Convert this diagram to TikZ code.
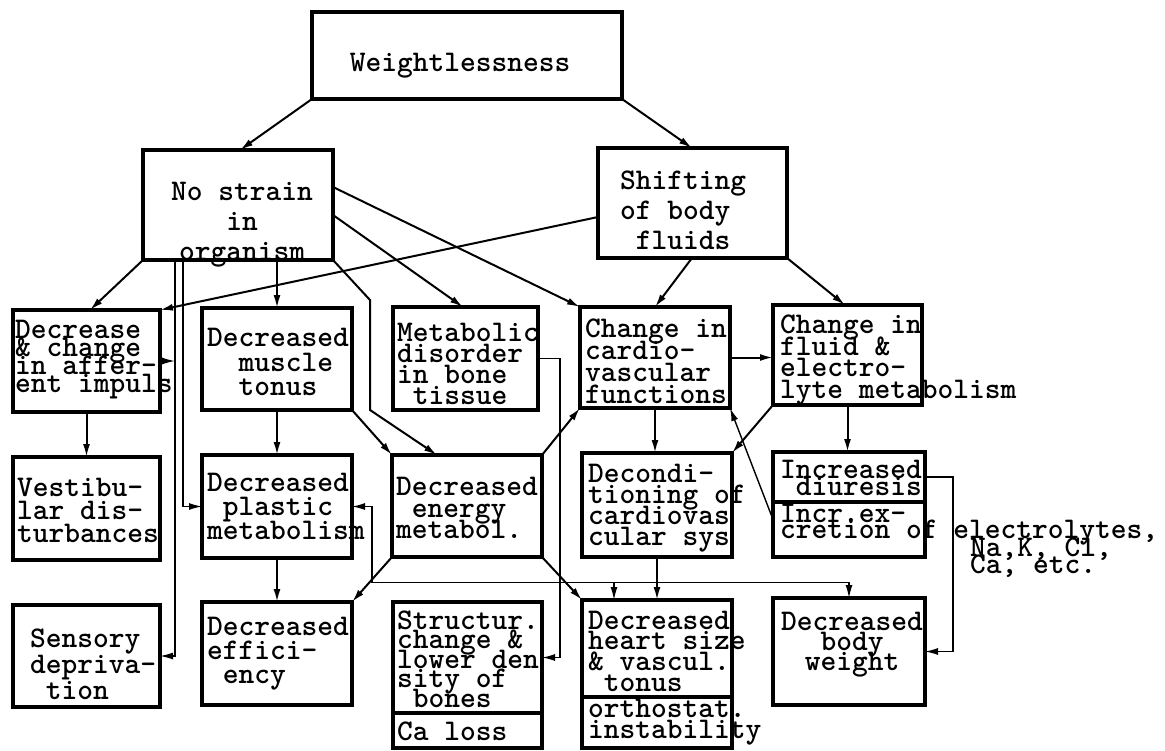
\documentclass[tikz,border=0pt]{standalone}
\usepackage{fontspec}
\usetikzlibrary{arrows.meta}
\tikzset{lsp/.style={font=\ttfamily\bfseries\fontsize{30}{#1}\selectfont}}
\newcommand\chsp{\hphantom{x}}
\begin{document}
\lineskiplimit=-60pt
\lineskip=0pt
\begin{tikzpicture}[x=1pt,y=-1pt,>={Latex[length=13pt,width=7pt]}]
\tikzstyle{every node}+=[inner sep=0pt]
\tikzstyle{box}=[draw, line width=3.5pt, anchor=north west, outer sep=0pt]
\tikzstyle{txt}=[anchor=west, align=left]
\tikzstyle{arr}=[line width=2pt, ->]
\tikzstyle{thin}=[line width=1.4pt]
\useasboundingbox (0,0) rectangle (1165,750);
\node[box, minimum width=310pt, minimum height=87pt] (w) at (312,12) {};
\node[box, minimum width=190pt, minimum height=110pt] (ns) at (143,150) {};
\node[box, minimum width=189pt, minimum height=110pt] (sf) at (598,148) {};
\node[box, minimum width=147pt, minimum height=102pt] (dc) at (13,310) {};
\node[box, minimum width=150pt, minimum height=102pt] (mt) at (202,308) {};
\node[box, minimum width=145pt, minimum height=103pt] (md) at (393,307) {};
\node[box, minimum width=150pt, minimum height=101pt] (cc) at (580,307) {};
\node[box, minimum width=149pt, minimum height=100pt] (cf) at (773,305) {};
\node[box, minimum width=147pt, minimum height=103pt] (vd) at (13,457) {};
\node[box, minimum width=150pt, minimum height=103pt] (pm) at (202,455) {};
\node[box, minimum width=150pt, minimum height=102pt] (em) at (392,455) {};
\node[box, minimum width=150pt, minimum height=104pt] (dt) at (582,453) {};
\node[box, minimum width=152pt, minimum height=50pt] (id) at (773,452) {};
\node[box, minimum width=152pt, minimum height=55pt] (ie) at (773,502) {};
\node[box, minimum width=147pt, minimum height=102pt] (sd) at (13,605) {};
\node[box, minimum width=150pt, minimum height=103pt] (ef) at (202,602) {};
\node[box, minimum width=149pt, minimum height=111pt] (sc) at (393,602) {};
\node[box, minimum width=149pt, minimum height=35pt] (ca) at (393,713) {};
\node[box, minimum width=150pt, minimum height=97pt] (hs) at (582,600) {};
\node[box, minimum width=150pt, minimum height=51pt] (oi) at (582,697) {};
\node[box, minimum width=152pt, minimum height=107pt] (bw) at (773,598) {};
\node[lsp=26] (tw) at (460,66) {Weightlessness};
\node[lsp=30, align=center] (tns) at (242,225) {No strain\\in\\organism};
\node[lsp=30, txt] (tsf) at (620,210) {Shifting\\of body\\\chsp fluids};
\node[lsp=18, txt] (tdc) at (15,360) {Decrease\\\& change\\in affer-\\ent impuls};
\node[lsp=24.5, txt] (tmt) at (207,362) {Decreased\\\chsp\chsp muscle\\\chsp\chsp tonus};
\node[lsp=21, txt] (tmd) at (397,364) {Metabolic\\disorder\\in bone\\\chsp tissue};
\node[lsp=22, txt] (tcc) at (585,361) {Change in\\cardio-\\vascular\\functions};
\node[lsp=21.7, txt] (tcf) at (780,360) {Change in\\fluid \&\\electro-\\lyte metabolism};
\node[lsp=23, txt] (tvd) at (17,510) {Vestibu-\\lar dis-\\turbances};
\node[lsp=24, txt] (tpm) at (207,506) {Decreased\\\chsp plastic\\metabolism};
\node[lsp=21.5, txt] (tem) at (396,508) {Decreased\\\chsp energy\\metabol.};
\node[lsp=21, txt] (tdt) at (588,508) {Decondi-\\tioning of\\cardiovas\\cular sys};
\node[lsp=17, txt] (tid) at (780,478) {Increased\\\chsp diuresis};
\node[lsp=16, txt] (tie) at (780,525) {Incr.ex-\\cretion of electrolytes,};
\node[lsp=17, txt] (tel) at (970,558) {Na,K, Cl,\\Ca, etc.};
\node[lsp=26, txt] (tsd) at (30,664) {Sensory\\depriva-\\\chsp tion};
\node[lsp=24, txt] (tef) at (207,654) {Decreased\\effici-\\\chsp ency};
\node[lsp=19.5, txt] (tsc) at (397,659) {Structur.\\change \&\\lower den\\sity of\\\chsp bones};
\node[lsp=20, txt] (tca) at (397,731) {Ca loss};
\node[lsp=20.7, txt] (ths) at (588,651) {Decreased\\heart size\\\& vascul.\\\chsp tonus};
\node[lsp=21, txt] (toi) at (588,722) {orthostat.\\instability};
\node[lsp=20, align=center] (tbw) at (852,645) {Decreased\\body\\weight};
\coordinate (la) at ([xshift=32pt]ns.south west);
\coordinate (lb) at ([xshift=40pt]ns.south west);
\coordinate (bus) at ([xshift=20pt,yshift=-76pt]pm.east);
\coordinate (hb) at ([xshift=32pt]hs.north west);
\draw[arr] (w.south west) -- ([xshift=97pt]ns.north west);
\draw[arr] (w.south east) -- ([xshift=94pt]sf.north west);
\draw[arr] (ns.south west) -- ([xshift=77pt]dc.north west);
\draw[arr] (ns.south -| mt.north) -- (mt.north);
\draw[arr] ([yshift=-65pt]ns.north east) -- ([xshift=70pt]md.north west);
\draw[arr] ([yshift=-37pt]ns.north east) -- (cc.north west);
\draw[arr] (ns.south east) -- ++(37,40) -- ++(0,110) -- ([xshift=45pt]em.north west);
\draw[arr] (mt.south east) -- (em.north west);
\draw[arr] ([yshift=-69pt]sf.north west) -- (dc.north east);
\draw[arr] ([xshift=94pt]sf.south west) -- ([xshift=75pt]cc.north west);
\draw[arr] (sf.south east) -- ([xshift=72pt]cf.north west);
\draw[arr, thin] (la) |- (sd.east);
\draw[arr, thin] (lb) |- (pm.west);
\draw[arr, thin] (dc.east) -- (dc.east -| la);
\draw[arr] (dc.south) -- (vd.north);
\draw[arr] (mt.south) -- (pm.north);
\draw[arr] (pm.south) -- (ef.north);
\draw[arr] (em.south west) -- (ef.north east);
\draw[arr] (em.south east) -- (hs.north west);
\draw[arr] (em.north east) -- (cc.south west);
\draw[arr, thin] (md.east) -- ++(22,0) |- (sc.east);
\draw[arr] (cc.east) -- (cc.east -| cf.west);
\draw[arr] (cc.south) -- (cc.south |- dt.north);
\draw[arr] (cf.south west) -- (dt.north east);
\draw[arr, thin] ([yshift=10pt]ie.west) -- (cc.south east);
\draw[arr] (cf.south) -- (cf.south |- id.north);
\draw[arr] (dt.south) -- (dt.south |- hs.north);
\draw[arr, thin, <->] (pm.east) -| (bus) -| (bw.north);
\draw[arr, thin] (bus -| hb) -- (hb);
\draw[arr, thin] (id.east) -- ++(28,0) |- (bw.east);
\end{tikzpicture}
\end{document}
